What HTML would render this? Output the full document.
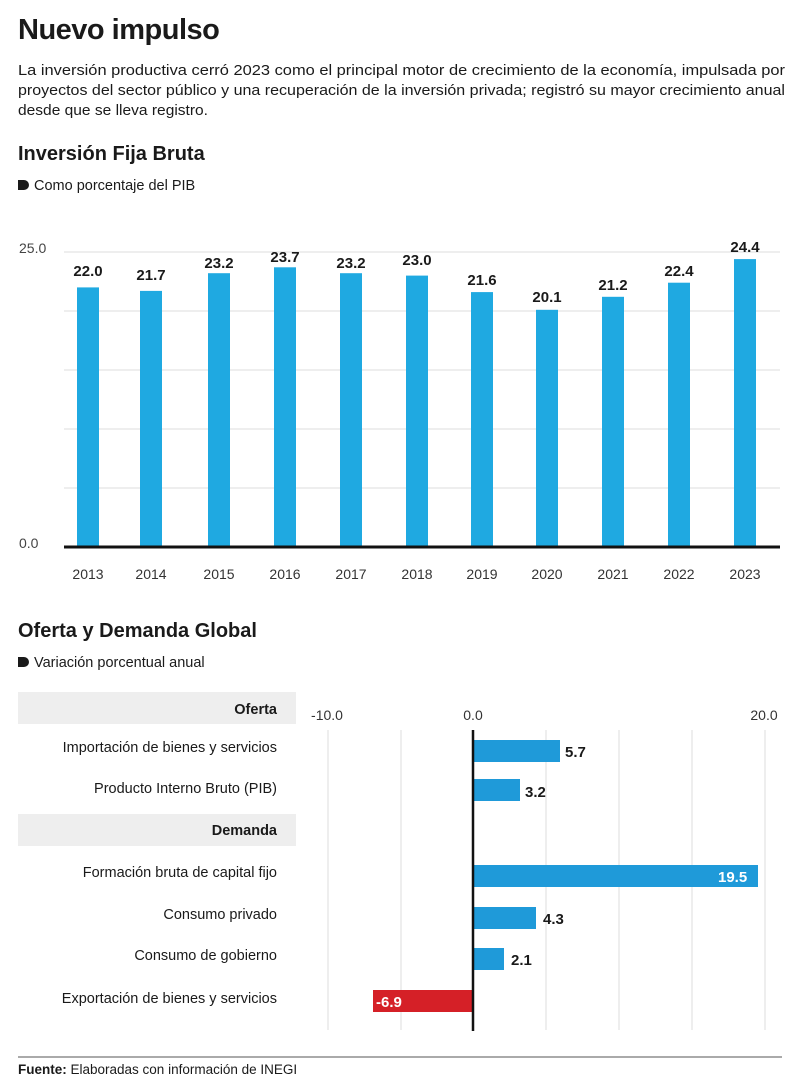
<!DOCTYPE html>
<html><head><meta charset="utf-8"><style>
body{margin:0;width:800px;height:1091px;background:#fff;font-family:"Liberation Sans",sans-serif;color:#1a1a1a;position:relative;overflow:hidden}
.a{position:absolute;white-space:nowrap}
</style></head><body>
<div class="a" style="left:18px;top:14px;font-size:29px;font-weight:bold;letter-spacing:-0.5px">Nuevo impulso</div>
<div class="a" style="left:18px;top:143px;font-size:20px;font-weight:bold">Inversión Fija Bruta</div>
<div class="a" style="left:18px;top:178px;font-size:14.5px"><span style="display:inline-block;width:11px;height:10px;background:#1a1a1a;border-radius:0 5px 5px 0;margin-right:5px"></span>Como porcentaje del PIB</div>
<div class="a" style="left:19px;top:535px;font-size:14px;color:#444">0.0</div>
<svg class="a" style="left:0;top:0" width="800" height="1091">
<g font-size="14.5" font-family="Liberation Sans" fill="#1a1a1a" lengthAdjust="spacingAndGlyphs">
<text x="18" y="75" textLength="767" lengthAdjust="spacingAndGlyphs">La inversión productiva cerró 2023 como el principal motor de crecimiento de la economía, impulsada por</text>
<text x="18" y="95" textLength="767" lengthAdjust="spacingAndGlyphs">proyectos del sector público y una recuperación de la inversión privada; registró su mayor crecimiento anual</text>
<text x="18" y="115" textLength="190" lengthAdjust="spacingAndGlyphs">desde que se lleva registro.</text>
</g>
<g stroke="#ddd" stroke-width="1"><line x1="64" x2="780" y1="252" y2="252"/><line x1="64" x2="780" y1="311" y2="311"/><line x1="64" x2="780" y1="370" y2="370"/><line x1="64" x2="780" y1="429" y2="429"/><line x1="64" x2="780" y1="488" y2="488"/></g>
<text x="19" y="253" font-size="14" fill="#444" font-family="Liberation Sans">25.0</text>
<g fill="#1fa9e1">
<rect x="77" y="287.4" width="22" height="259.6"/><rect x="140" y="290.9" width="22" height="256.1"/><rect x="208" y="273.2" width="22" height="273.8"/><rect x="274" y="267.3" width="22" height="279.7"/><rect x="340" y="273.2" width="22" height="273.8"/><rect x="406" y="275.6" width="22" height="271.4"/><rect x="471" y="292.1" width="22" height="254.9"/><rect x="536" y="309.8" width="22" height="237.2"/><rect x="602" y="296.8" width="22" height="250.2"/><rect x="668" y="282.7" width="22" height="264.3"/><rect x="734" y="259.1" width="22" height="287.9"/>
</g>
<line x1="64" x2="780" y1="547" y2="547" stroke="#111" stroke-width="3"/>
<g font-size="15" font-weight="bold" text-anchor="middle" font-family="Liberation Sans" fill="#1a1a1a">
<text x="88" y="276">22.0</text><text x="151" y="280">21.7</text><text x="219" y="268">23.2</text><text x="285" y="262">23.7</text><text x="351" y="268">23.2</text><text x="417" y="265">23.0</text><text x="482" y="285">21.6</text><text x="547" y="302">20.1</text><text x="613" y="290">21.2</text><text x="679" y="276">22.4</text><text x="745" y="252">24.4</text>
</g>
<g font-size="14" text-anchor="middle" font-family="Liberation Sans" fill="#333">
<text x="88" y="579">2013</text><text x="151" y="579">2014</text><text x="219" y="579">2015</text><text x="285" y="579">2016</text><text x="351" y="579">2017</text><text x="417" y="579">2018</text><text x="482" y="579">2019</text><text x="547" y="579">2020</text><text x="613" y="579">2021</text><text x="679" y="579">2022</text><text x="745" y="579">2023</text>
</g>
<rect x="18" y="692" width="278" height="32" fill="#eeeeee"/>
<rect x="18" y="814" width="278" height="32" fill="#eeeeee"/>
<g stroke="#ddd"><line x1="328" x2="328" y1="730" y2="1030"/><line x1="401" x2="401" y1="730" y2="1030"/><line x1="546" x2="546" y1="730" y2="1030"/><line x1="619" x2="619" y1="730" y2="1030"/><line x1="692" x2="692" y1="730" y2="1030"/><line x1="765" x2="765" y1="730" y2="1030"/></g>
<g font-size="14" text-anchor="middle" font-family="Liberation Sans" fill="#333"><text x="327" y="720">-10.0</text><text x="473" y="720">0.0</text><text x="764" y="720">20.0</text></g>
<g fill="#1f9ad9"><rect x="473" y="740" width="87" height="22"/><rect x="473" y="779" width="47" height="22"/><rect x="473" y="865" width="285" height="22"/><rect x="473" y="907" width="63" height="22"/><rect x="473" y="948" width="31" height="22"/></g>
<rect x="373" y="990" width="100" height="22" fill="#d52027"/>
<line x1="473" x2="473" y1="730" y2="1031" stroke="#111" stroke-width="2.5"/>
<g font-size="15" font-weight="bold" font-family="Liberation Sans" fill="#1a1a1a"><text x="565" y="757">5.7</text><text x="525" y="797">3.2</text><text x="543" y="924">4.3</text><text x="511" y="965">2.1</text></g>
<g font-size="15" font-weight="bold" font-family="Liberation Sans" fill="#fff"><text x="718" y="882">19.5</text><text x="376" y="1007">-6.9</text></g>
<g font-size="14.5" text-anchor="end" font-family="Liberation Sans" fill="#1a1a1a">
<text x="277" y="714" font-weight="bold">Oferta</text>
<text x="277" y="752">Importación de bienes y servicios</text>
<text x="277" y="793">Producto Interno Bruto (PIB)</text>
<text x="277" y="835" font-weight="bold">Demanda</text>
<text x="277" y="877">Formación bruta de capital fijo</text>
<text x="277" y="919">Consumo privado</text>
<text x="277" y="960">Consumo de gobierno</text>
<text x="277" y="1003">Exportación de bienes y servicios</text>
</g>
<line x1="18" x2="782" y1="1057" y2="1057" stroke="#555" stroke-width="1"/>
</svg>
<div class="a" style="left:18px;top:620px;font-size:20px;font-weight:bold">Oferta y Demanda Global</div>
<div class="a" style="left:18px;top:655px;font-size:14.5px"><span style="display:inline-block;width:11px;height:10px;background:#1a1a1a;border-radius:0 5px 5px 0;margin-right:5px"></span>Variación porcentual anual</div>
<div class="a" style="left:18px;top:1062px;font-size:13.5px"><b>Fuente:</b> Elaboradas con información de INEGI</div>
</body></html>
